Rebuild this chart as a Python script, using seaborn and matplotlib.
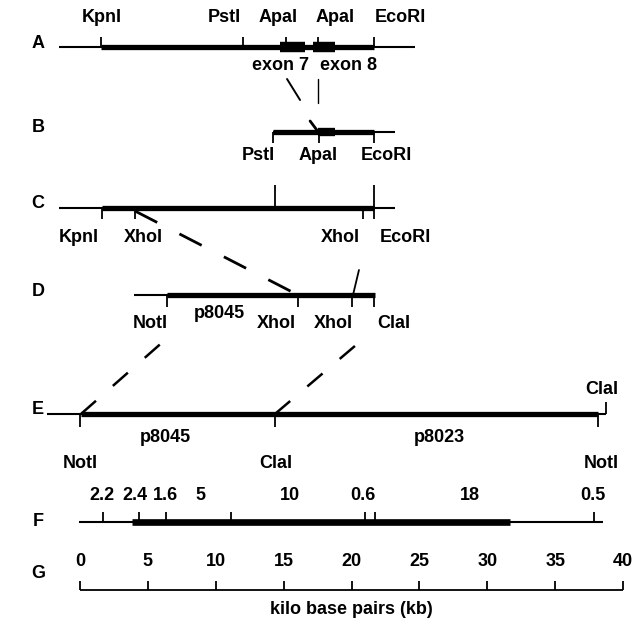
import matplotlib
matplotlib.use("Agg")
import matplotlib.pyplot as plt
import seaborn as sns

# map positions, in kb of the scale at the bottom (rows A-D are drawn to the same x axis)
# row A - genomic fragment with exons 7 and 8
a_span = (-1.55, 24.68)
a_thick = (1.55, 21.66)
a_exons = [(14.73, 16.57), (17.16, 18.78)]
a_sites = [1.55, 12.01, 15.17, 17.53, 21.66]
a_names = ["KpnI", "PstI", "ApaI", "ApaI", "EcoRI"]
a_name_x = [1.62, 10.6, 14.6, 18.8, 23.6]
a_exon_names = ["exon 7", "exon 8"]
a_exon_x = [14.8, 19.8]

# row B - PstI/EcoRI probe
b_span = (14.22, 23.2)
b_thick = (14.22, 21.66)
b_exon = (17.53, 18.78)
b_sites = [14.22, 17.6, 21.66]
b_names = ["PstI", "ApaI", "EcoRI"]
b_name_x = [13.11, 17.53, 22.54]

# row C
c_span = (-1.55, 23.2)
c_thick = (1.62, 21.66)
c_up = [14.36, 21.66]
c_down = [1.62, 4.05, 20.85, 21.66]
c_names = ["KpnI", "XhoI", "XhoI", "EcoRI"]
c_name_x = [-0.07, 4.7, 19.15, 24.0]

# row D
d_span = (3.98, 21.73)
d_thick = (6.41, 21.73)
d_sites = [6.41, 16.06, 20.04, 21.66]
d_names = ["NotI", "XhoI", "XhoI", "ClaI"]
d_name_x = [5.2, 14.5, 18.64, 23.1]

# row E - the two clones
e_span = (-2.43, 38.75)
e_thick = (0.07, 38.15)
e_sites = [0.0, 14.36, 38.15]
e_names = ["NotI", "ClaI", "NotI"]
e_name_x = [0.0, 14.4, 38.4]
e_clones = ["p8045", "p8023"]
e_clone_x = [6.3, 26.5]
e_end = 38.75

# row F - fragment sizes
f_span = (-0.07, 38.5)
f_thick = (3.8, 31.7)
f_sites = [1.7, 4.35, 6.3, 11.1, 21.0, 21.7, 37.9]
f_sizes = ["2.2", "2.4", "1.6", "5", "10", "0.6", "18", "0.5"]
f_size_x = [1.6, 4.05, 6.26, 8.84, 15.47, 20.85, 28.73, 37.79]

# row G - scale
g_ticks = [0, 5, 10, 15, 20, 25, 30, 35, 40]

# links between rows (x at upper row, x at lower row)
ab_links = [(15.25, 16.21), (17.53, 17.53)]
cd_links = [(4.05, 16.06)]
cd_short = [(20.55, 20.11)]
de_links = [(6.26, 0.07), (20.77, 14.36)]

# layout (y in pixels from top)
row_y = {"A": 47, "B": 132, "C": 208, "D": 295, "E": 414, "F": 522, "G": 590}
letter_y = {"A": 43, "B": 128, "C": 204, "D": 291, "E": 410, "F": 521, "G": 573}
letter_x = -3.1

sns.set_theme(style="white")
plt.rcParams["font.family"] = ["Liberation Sans", "DejaVu Sans"]

fig = plt.figure(figsize=(6.41, 6.24), dpi=100)
ax = fig.add_axes([0, 0, 1, 1])
ax.set_xlim(-80 / 13.575, (641 - 80) / 13.575)
ax.set_ylim(624, 0)
ax.axis("off")

k = "black"
thin, thick, tick_w = 1.5, 3.8, 1.3
fs = 13


def label(x, y, s, size=fs):
    ax.text(x, y, s, ha="center", va="center", fontsize=size, fontweight="bold", color=k)


for r, y in letter_y.items():
    label(letter_x, y, r)

# A
y = row_y["A"]
ax.hlines(y, *a_span, color=k, lw=thin)
ax.hlines(y, *a_thick, color=k, lw=thick)
for x0, x1 in a_exons:
    ax.hlines(y, x0, x1, color=k, lw=7.5)
ax.vlines(a_sites, y - 10, y, color=k, lw=tick_w)
for x, s in zip(a_name_x, a_names):
    label(x, 18, s)
for x, s in zip(a_exon_x, a_exon_names):
    label(x, 66, s)
ax.plot(ab_links[0], [79, 100], color=k, lw=1.4)
ax.plot(ab_links[1], [79, 103], color=k, lw=1.0)
ax.plot([16.95, 17.5], [121, 131], color=k, lw=2)

# B
y = row_y["B"]
ax.hlines(y, *b_span, color=k, lw=thin)
ax.hlines(y, *b_thick, color=k, lw=thick)
ax.hlines(y, *b_exon, color=k, lw=6)
ax.vlines(b_sites, y, y + 11, color=k, lw=tick_w)
for x, s in zip(b_name_x, b_names):
    label(x, 156, s)

# C
y = row_y["C"]
ax.hlines(y, *c_span, color=k, lw=thin)
ax.hlines(y, *c_thick, color=k, lw=thick)
ax.vlines(c_up, 185, y, color=k, lw=tick_w)
ax.vlines(c_down, y, y + 11, color=k, lw=tick_w)
for x, s in zip(c_name_x, c_names):
    label(x, 237, s)
for x0, x1 in cd_links:
    ax.plot([x0, x1], [211, 295], color=k, lw=2, ls=(0, (9, 9)))
for x0, x1 in cd_short:
    ax.plot([x0, x1], [270, 295], color=k, lw=1.3)

# D
y = row_y["D"]
ax.hlines(y, *d_span, color=k, lw=thin)
ax.hlines(y, *d_thick, color=k, lw=thick)
ax.vlines(d_sites, y, y + 12, color=k, lw=tick_w)
for x, s in zip(d_name_x, d_names):
    label(x, 323, s)
label(10.3, 314, "p8045")
for x0, x1 in de_links:
    ax.plot([x1, x0], [414, 340], color=k, lw=1.8, ls=(0, (8, 9)))

# E
y = row_y["E"]
ax.hlines(y, *e_span, color=k, lw=thin)
ax.hlines(y, *e_thick, color=k, lw=thick)
ax.vlines(e_sites, y, y + 13, color=k, lw=tick_w)
ax.vlines(e_end, y - 12, y, color=k, lw=tick_w)
for x, s in zip(e_name_x, e_names):
    label(x, 463, s)
for x, s in zip(e_clone_x, e_clones):
    label(x, 438, s)
label(e_end - 0.3, 389, "ClaI")

# F
y = row_y["F"]
ax.hlines(y, *f_span, color=k, lw=thin)
ax.hlines(y, *f_thick, color=k, lw=thick + 1)
ax.vlines(f_sites, y - 10, y, color=k, lw=tick_w)
for x, s in zip(f_size_x, f_sizes):
    label(x, 496, s)

# G
y = row_y["G"]
ax.hlines(y, g_ticks[0], g_ticks[-1], color=k, lw=1.3)
ax.vlines(g_ticks, y - 9, y, color=k, lw=tick_w)
for t in g_ticks:
    label(t, 561, str(t))
label(20, 609, "kilo base pairs (kb)")

fig.savefig("out.png", dpi=100)
